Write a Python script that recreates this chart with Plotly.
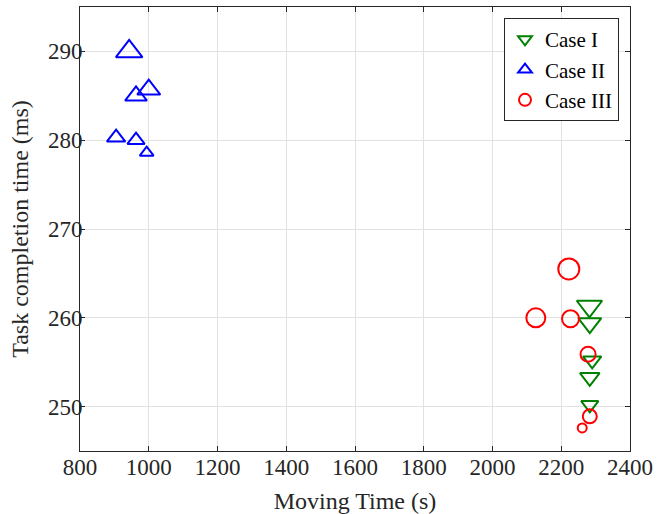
import plotly.graph_objects as go

# Case I (green, inverted triangles)
case1_x = [2282, 2283, 2290, 2283, 2283]
case1_y = [261.3, 259.4, 255.2, 253.3, 250.2]
case1_s = [22, 20, 16, 17, 15]

# Case II (blue, triangles)
case2_x = [943, 963, 1000, 905, 963, 994]
case2_y = [290.0, 285.0, 285.7, 280.3, 280.0, 278.6]
case2_s = [23, 19, 20, 16, 15, 12]

# Case III (red, circles)
case3_x = [2222, 2126, 2227, 2278, 2283, 2261]
case3_y = [265.5, 260.0, 259.9, 255.9, 248.9, 247.6]
case3_s = [21, 19, 17, 15, 14, 9]

x_ticks = [800, 1000, 1200, 1400, 1600, 1800, 2000, 2200, 2400]
y_ticks = [250, 260, 270, 280, 290]

FONT = "Liberation Serif"
AX = "rgb(38,38,38)"

fig = go.Figure()
fig.add_trace(go.Scatter(x=case1_x, y=case1_y, mode="markers", name="Case I",
                         marker=dict(symbol="triangle-down-open", size=case1_s, opacity=1,
                                     color="rgb(0,128,0)", line=dict(width=2, color="rgb(0,128,0)"))))
fig.add_trace(go.Scatter(x=case2_x, y=case2_y, mode="markers", name="Case II",
                         marker=dict(symbol="triangle-up-open", size=case2_s, opacity=1,
                                     color="rgb(0,0,255)", line=dict(width=2, color="rgb(0,0,255)"))))
fig.add_trace(go.Scatter(x=case3_x, y=case3_y, mode="markers", name="Case III",
                         marker=dict(symbol="circle-open", size=case3_s, opacity=1,
                                     color="rgb(255,0,0)", line=dict(width=2, color="rgb(255,0,0)"))))

axis_common = dict(showline=True, linecolor=AX, linewidth=1, mirror="ticks",
                   ticks="inside", ticklen=5, tickcolor=AX, automargin=False,
                   showgrid=True, gridcolor="rgb(225,225,225)", gridwidth=1,
                   zeroline=False, tickfont=dict(family=FONT, size=23, color=AX))

fig.update_layout(
    width=658, height=514,
    margin=dict(l=80, r=28, t=7, b=63),
    paper_bgcolor="white", plot_bgcolor="white",
    font=dict(family=FONT, color=AX),
    xaxis=dict(range=[800, 2400], tickvals=x_ticks, ticklabelstandoff=-5,
               title=dict(text="Moving Time (s)", font=dict(family=FONT, size=24, color=AX), standoff=14),
               **axis_common),
    yaxis=dict(range=[245, 295], tickvals=y_ticks, ticklabelstandoff=-8,
               title=dict(text="Task completion time (ms)", font=dict(family=FONT, size=24, color=AX), standoff=12),
               **axis_common),
    legend=dict(x=0.98, y=0.975, xanchor="right", yanchor="top",
                bgcolor="white", bordercolor=AX, borderwidth=1,
                font=dict(family=FONT, size=21, color="black"),
                itemsizing="constant", tracegroupgap=0),
    showlegend=True,
)

fig.write_html("out.html", config={"displayModeBar": False},
               post_script="document.body.style.margin='0px';document.body.style.overflow='hidden';")
